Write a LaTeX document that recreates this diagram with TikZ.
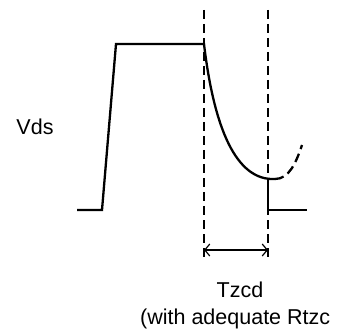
\documentclass[tikz,border=0pt]{standalone}
\usepackage{fontspec}
\setmainfont{Liberation Sans}
\usetikzlibrary{arrows.meta}
\begin{document}
\begin{tikzpicture}[x=1pt,y=-1pt,
  wave/.style={line width=2.3pt, line join=miter},
  guide/.style={line width=2.3pt, dash pattern=on 9pt off 5pt},
  dim/.style={line width=1.2pt, {Straight Barb[length=5pt,width=12pt]}-{Straight Barb[length=5pt,width=12pt]}},
  lbl/.style={inner sep=0pt, font=\fontsize{21.5}{25}\selectfont}]
\useasboundingbox (0,0) rectangle (346,329);
% key points
\coordinate (s0) at (77,210);
\coordinate (s1) at (102,210);
\coordinate (s2) at (116,44);
\coordinate (s3) at (204,44);
\coordinate (m) at (275,179);
\coordinate (e) at (302,145);
\coordinate (v0) at (268,210);
\coordinate (v1) at (307,210);
\coordinate (g1t) at (204,10);
\coordinate (g1b) at (204,260);
\coordinate (g2t) at (268,10);
\coordinate (g2b) at (268,260);
\coordinate (a1) at (204,250);
\coordinate (a2) at (268,250);
% waveform
\draw[wave] (s0) -- (s1) -- (s2) -- (s3) .. controls (214,128) and (236,181) .. (m);
\draw[wave, dash pattern=on 9pt off 5pt] (m) .. controls (289,179) and (296,163) .. (e);
\draw[wave] (268,178) -- (v0) -- (v1);
% guides
\draw[guide] (g1t) -- (g1b);
\draw[guide] (g2t) -- (g2b);
\draw[dim] (a1) -- (a2);
% labels
\node[lbl, anchor=base] (vds) at (35,135) {Vds};
\node[lbl, anchor=base] (tz) at (240,297) {Tzcd};
\node[lbl, anchor=base west] (note) at (140,324) {(with adequate Rtzc};
\end{tikzpicture}
\end{document}
